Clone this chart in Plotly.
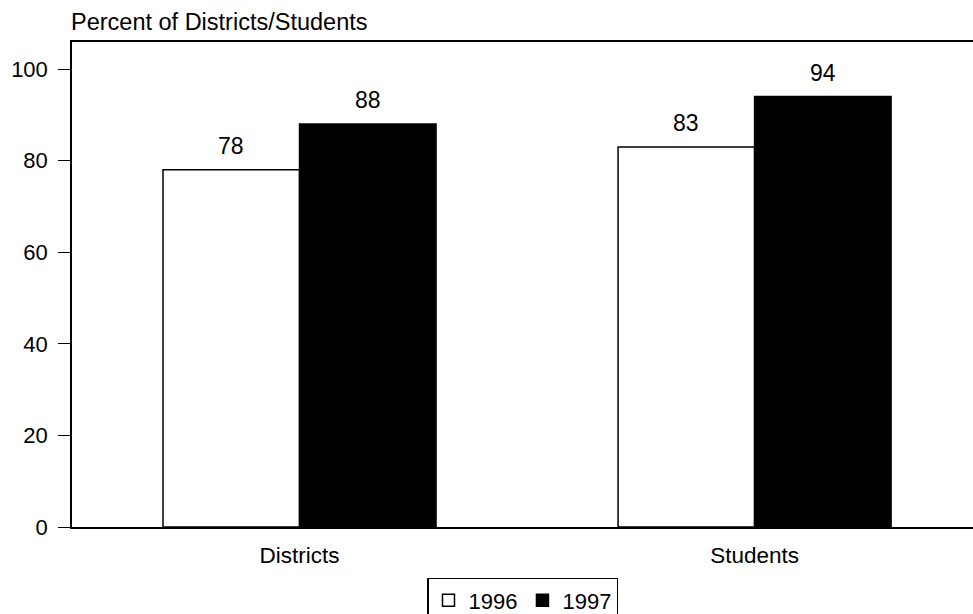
import plotly.graph_objects as go

categories = ["Districts", "Students"]
values_1996 = [78, 83]
values_1997 = [88, 94]
y_ticks = [0, 20, 40, 60, 80, 100]
y_title = "Percent of Districts/Students"

FONT = "Liberation Sans, Arial, sans-serif"

fig = go.Figure()
fig.add_trace(go.Bar(
    name="1996", x=categories, y=values_1996, offsetgroup="a",
    marker=dict(color="white", line=dict(color="black", width=1.5)),
))
fig.add_trace(go.Bar(
    name="1997", x=categories, y=values_1997, offsetgroup="b",
    marker=dict(color="black", line=dict(color="black", width=1.5)),
))

annotations = [dict(text=y_title, xref="paper", yref="paper", x=-0.003, y=1.0,
                    xanchor="left", yanchor="bottom", yshift=5, showarrow=False,
                    font=dict(size=23.5))]
# value labels above bars (grouped: 1996 left half, 1997 right half)
half = 0.3 / 2
for i, v in enumerate(values_1996):
    annotations.append(dict(text=str(v), x=i - half, y=v, xref="x", yref="y",
                            yanchor="bottom", yshift=9, showarrow=False,
                            font=dict(size=23)))
for i, v in enumerate(values_1997):
    annotations.append(dict(text=str(v), x=i + half, y=v, xref="x", yref="y",
                            yanchor="bottom", yshift=9, showarrow=False,
                            font=dict(size=23)))

fig.update_layout(
    width=973, height=614,
    margin=dict(l=72, r=0, t=42, b=87, autoexpand=False),
    paper_bgcolor="white", plot_bgcolor="white",
    barmode="group", bargap=0.4, bargroupgap=0,
    font=dict(family=FONT, size=22, color="black"),
    showlegend=True,
    legend=dict(orientation="h", x=0.5, xanchor="center", y=-0.105, yanchor="top",
                bordercolor="black", borderwidth=1.5, font=dict(size=22),
                itemwidth=30, tracegroupgap=0),
    xaxis=dict(range=[-0.5, 1.48], showline=True, linecolor="black", linewidth=1.5,
               mirror=True, ticks="", showgrid=False, tickfont=dict(size=22.5),
               ticklabelstandoff=7),
    yaxis=dict(range=[0, 105.9], tickvals=y_ticks, showline=True, linecolor="black",
               linewidth=1.5, ticks="outside", ticklen=12, tickcolor="black",
               showgrid=False, zeroline=False, tickfont=dict(size=22), ticklabelstandoff=6),
    annotations=annotations,
)

fig.write_html("out.html")
